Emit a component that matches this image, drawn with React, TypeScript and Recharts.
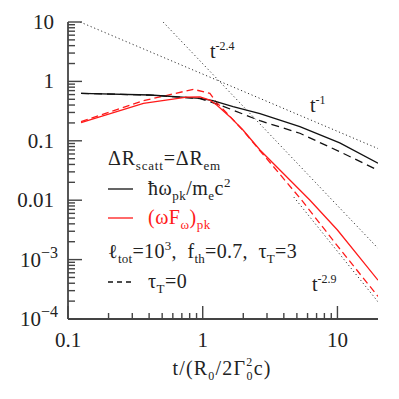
import React from "react";
import { ComposedChart, Line, XAxis, YAxis } from "recharts";

const W = 383;
const H = 383;
const FONT = "'Liberation Serif', 'Times New Roman', serif";
const INK = "#222";
const AX = "#444";
const RED = "#ff1a1a";

// hbar omega_pk / m_e c^2, tau_T = 3 (solid) and tau_T = 0 (dashed)
const tBlack = [0.125, 0.407, 0.955, 1.19, 1.68, 2.66, 5.26, 10.4, 20];
const yBlack = [0.63, 0.59, 0.519, 0.473, 0.375, 0.288, 0.173, 0.092, 0.042];
const tBlackDash = [0.125, 0.407, 0.955, 1.34, 2.66, 5.26, 10.4, 20];
const yBlackDash = [0.63, 0.588, 0.515, 0.401, 0.218, 0.134, 0.0655, 0.032];

// (omega F_omega)_pk
const tRed = [0.125, 0.363, 0.761, 0.955, 1.13, 1.27, 1.59, 1.99, 2.66, 6.23, 10, 20];
const yRed = [0.202, 0.428, 0.545, 0.55, 0.486, 0.4, 0.255, 0.152, 0.07, 0.0101, 0.00315, 0.00045];
const tRedDash = [0.125, 0.363, 0.852, 1.13, 1.27, 1.59, 1.99, 2.66, 3.43, 5.41, 10, 20];
const yRedDash = [0.21, 0.473, 0.736, 0.63, 0.44, 0.258, 0.15, 0.068, 0.0345, 0.0101, 0.0017, 0.00024];

// power-law guides
const tPow1 = [0.123, 20];
const yPow1 = [10, 0.074];
const tPow24 = [0.508, 20];
const yPow24 = [10, 0.00155];
const tPow29 = [4.74, 20];
const yPow29 = [0.0113, 0.000195];

const xTicks = [0.1, 0.2, 0.3, 0.4, 0.5, 0.6, 0.7, 0.8, 0.9, 1, 2, 3, 4, 5, 6, 7, 8, 9, 10];
const yDecades = [1e-4, 1e-3, 1e-2, 0.1, 1];
const yTicks = [...yDecades.flatMap((d) => [1, 2, 3, 4, 5, 6, 7, 8, 9].map((m) => d * m)), 10];

const zip = (t: number[], y: number[]) => t.map((v, i) => ({ t: v, y: y[i] }));

const isMajor = (v: number) => Math.abs(Math.log10(v) - Math.round(Math.log10(v))) < 1e-6;

type Seg = [string, "n" | "b" | "p", number?];

function Rich({ x, y, segs, size = 20, small = 13, fill = INK, anchor = "start", sub = 5, sup = -8, ls = 0 }: any) {
  const off: Record<string, number> = { n: 0, b: sub, p: sup };
  let cur = 0;
  return (
    <text x={x} y={y} fill={fill} fontFamily={FONT} fontSize={size} textAnchor={anchor}
      letterSpacing={ls} style={{ whiteSpace: "pre" }}>
      {segs.map(([s, k, dx]: Seg, i: number) => {
        const dy = off[k] - cur;
        cur = off[k];
        return (
          <tspan key={i} dy={dy} dx={dx || 0} fontSize={k === "n" ? size : small}>
            {s}
          </tspan>
        );
      })}
    </text>
  );
}

const BottomTick = ({ x, y, payload }: any) => {
  const v = payload.value;
  const major = isMajor(v);
  return (
    <g>
      <line x1={x} x2={x} y1={y} y2={y - (major ? 13 : 6)} stroke={AX} strokeWidth={1.4} />
      {major && (
        <text x={x} y={y + 28} textAnchor="middle" fontFamily={FONT} fontSize={21} fill={INK}>
          {String(v)}
        </text>
      )}
    </g>
  );
};

const TopTick = ({ x, y, payload }: any) => {
  const major = isMajor(payload.value);
  return <line x1={x} x2={x} y1={y} y2={y + (major ? 13 : 6)} stroke={AX} strokeWidth={1.4} />;
};

const LeftTick = ({ x, y, payload }: any) => {
  const v = payload.value;
  const major = isMajor(v);
  const e = Math.round(Math.log10(v));
  return (
    <g>
      <line x1={x} x2={x + (major ? 14 : 7)} y1={y} y2={y} stroke={AX} strokeWidth={1.4} />
      {major &&
        (e >= -2 ? (
          <text x={x - 14} y={y + 7} textAnchor="end" fontFamily={FONT} fontSize={21} fill={INK}>
            {e >= 0 ? String(10 ** e) : v.toFixed(-e)}
          </text>
        ) : (
          <text x={x - 10} y={y + 7} textAnchor="end" fontFamily={FONT} fontSize={21} fill={INK}>
            10
            <tspan dy={-9} fontSize={16}>
              {"\u2212" + String(-e)}
            </tspan>
          </text>
        ))}
    </g>
  );
};

const RightTick = ({ x, y, payload }: any) => {
  const major = isMajor(payload.value);
  return <line x1={x} x2={x - (major ? 13 : 7)} y1={y} y2={y} stroke={AX} strokeWidth={1.4} />;
};

const axisLine = { stroke: AX, strokeWidth: 1.8 };

export default function App() {
  return (
    <div style={{ position: "relative", width: W, height: H }}>
      <ComposedChart width={W} height={H} margin={{ top: 14, right: 13, bottom: 0, left: 0 }}>
        <XAxis xAxisId="b" dataKey="t" type="number" scale="log" domain={[0.1, 20]} allowDataOverflow
          ticks={xTicks} interval={0} tickSize={0} tickMargin={0} tickLine={false} height={72}
          axisLine={axisLine} tick={(p: any) => <BottomTick {...p} />} />
        <XAxis xAxisId="t" orientation="top" dataKey="t" type="number" scale="log" domain={[0.1, 20]}
          allowDataOverflow ticks={xTicks} interval={0} tickSize={0} tickMargin={0} tickLine={false}
          height={0} axisLine={axisLine} tick={(p: any) => <TopTick {...p} />} />
        <YAxis yAxisId="l" type="number" scale="log" domain={[1e-4, 10]} allowDataOverflow ticks={yTicks}
          interval={0} tickSize={0} tickMargin={0} tickLine={false} width={60} axisLine={axisLine}
          tick={(p: any) => <LeftTick {...p} />} />
        <YAxis yAxisId="r" orientation="right" type="number" scale="log" domain={[1e-4, 10]} allowDataOverflow
          ticks={yTicks} interval={0} tickSize={0} tickMargin={0} tickLine={false} width={0}
          axisLine={axisLine} tick={(p: any) => <RightTick {...p} />} />

        <Line xAxisId="b" yAxisId="l" data={zip(tPow1, yPow1)} dataKey="y" stroke="#333" strokeWidth={1}
          strokeDasharray="1.2 2.6" dot={false} isAnimationActive={false} />
        <Line xAxisId="b" yAxisId="l" data={zip(tPow24, yPow24)} dataKey="y" stroke="#333" strokeWidth={1}
          strokeDasharray="1.2 2.6" dot={false} isAnimationActive={false} />
        <Line xAxisId="b" yAxisId="l" data={zip(tPow29, yPow29)} dataKey="y" stroke="#333" strokeWidth={1}
          strokeDasharray="1.2 2.6" dot={false} isAnimationActive={false} />

        <Line xAxisId="b" yAxisId="l" data={zip(tBlackDash, yBlackDash)} dataKey="y" stroke="#111"
          strokeWidth={1.3} strokeDasharray="8 5" dot={false} isAnimationActive={false} />
        <Line xAxisId="b" yAxisId="l" data={zip(tRedDash, yRedDash)} dataKey="y" stroke={RED}
          strokeWidth={1.3} strokeDasharray="7 4" dot={false} isAnimationActive={false} />
        <Line xAxisId="b" yAxisId="l" data={zip(tBlack, yBlack)} dataKey="y" stroke="#111"
          strokeWidth={1.3} dot={false} isAnimationActive={false} />
        <Line xAxisId="b" yAxisId="l" data={zip(tRed, yRed)} dataKey="y" stroke={RED}
          strokeWidth={1.3} dot={false} isAnimationActive={false} />
      </ComposedChart>

      <svg width={W} height={H} style={{ position: "absolute", left: 0, top: 0, pointerEvents: "none" }}>
        <Rich x={202} y={50} small={12} segs={[["t", "n"], ["-2.4", "p"]]} />
        <Rich x={302} y={104} small={12} segs={[["t", "n"], ["-1", "p"]]} />
        <Rich x={304} y={283} small={12} segs={[["t", "n"], ["-2.9", "p"]]} />

        <Rich x={100} y={157} ls={0.8}
          segs={[["\u0394R", "n"], ["scatt", "b"], ["=\u0394R", "n"], ["em", "b"]]} />
        <line x1={100} x2={125} y1={181} y2={181} stroke="#111" strokeWidth={1.3} />
        <Rich x={140} y={187} ls={0.5}
          segs={[["\u0127\u03C9", "n"], ["pk", "b"], ["/m", "n"], ["e", "b"], ["c", "n"], ["2", "p"]]} />
        <line x1={100} x2={125} y1={210} y2={210} stroke={RED} strokeWidth={1.3} />
        <Rich x={140} y={216} fill={RED} ls={0.5}
          segs={[["(\u03C9F", "n"], ["\u03C9", "b"], [")", "n"], ["pk", "b"]]} />
        <Rich x={100} y={250} ls={0.3}
          segs={[["\u2113", "n"], ["tot", "b"], ["=10", "n"], ["3", "p"], [",  f", "n"], ["th", "b"],
            ["=0.7,  \u03C4", "n"], ["T", "b"], ["=3", "n"]]} />
        <line x1={100} x2={125} y1={274} y2={274} stroke="#111" strokeWidth={1.3} strokeDasharray="5 4" />
        <Rich x={140} y={280} ls={0.5} segs={[["\u03C4", "n"], ["T", "b"], ["=0", "n"]]} />

        <Rich x={214} y={367} anchor="middle" ls={1.2} small={12} sub={5} sup={-9}
          segs={[["t/(R", "n"], ["0", "b"], ["/2\u0393", "n"], ["2", "p"], ["0", "b", -7], ["c)", "n"]]} />
      </svg>
    </div>
  );
}
